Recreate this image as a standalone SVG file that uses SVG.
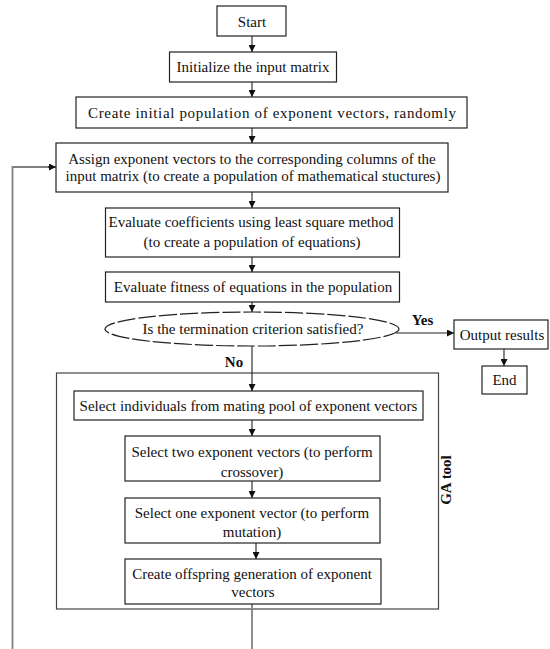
<svg xmlns="http://www.w3.org/2000/svg" width="550" height="649" viewBox="0 0 550 649">
<defs>
<style>
.b{fill:#fff;stroke:#222;stroke-width:1.2}
.t{font-family:"Liberation Serif","Times New Roman",serif;font-size:15px;fill:#111;text-anchor:middle}
.bold{font-weight:bold}
.c{fill:none;stroke:#222;stroke-width:1.1}
.g{fill:none;stroke:#808080;stroke-width:1.8}
</style>
<marker id="ah" viewBox="0 0 10 10" refX="10" refY="5" markerWidth="7" markerHeight="7" markerUnits="userSpaceOnUse" orient="auto">
<path d="M0,0 L10,5 L0,10 z" fill="#111"/>
</marker>
</defs>
<rect width="550" height="649" fill="#fff"/>

<g id="ga-tool">
<rect x="56.5" y="373" width="382" height="236" fill="none" stroke="#444" stroke-width="1.2"/>
<text class="t bold" transform="translate(451,480) rotate(-90)">GA tool</text>
</g>

<g id="connectors">
<path class="c" d="M252,36 V52" marker-end="url(#ah)"/>
<path class="c" d="M252,82 V97" marker-end="url(#ah)"/>
<path class="c" d="M252,128 V143" marker-end="url(#ah)"/>
<path class="c" d="M252,192 V208" marker-end="url(#ah)"/>
<path class="c" d="M252,257 V272" marker-end="url(#ah)"/>
<path class="c" d="M252,302 V312" marker-end="url(#ah)"/>
<path class="c" d="M252,346 V391" marker-end="url(#ah)"/>
<path class="c" d="M252,420 V436" marker-end="url(#ah)"/>
<path class="c" d="M252,481 V498" marker-end="url(#ah)"/>
<path class="c" d="M256,543 V559" marker-end="url(#ah)"/>
<path class="g" d="M252,604 V649" stroke-width="1.3"/>
<path class="c" d="M396,333 H454" marker-end="url(#ah)"/>
<path class="c" d="M504,349 V366" marker-end="url(#ah)"/>
<path class="g" d="M12.5,649 V167 H50"/>
<path class="c" d="M48,167 H56" marker-end="url(#ah)"/>
<text class="t bold" x="422.5" y="324.5">Yes</text>
<text class="t bold" x="234" y="367">No</text>
</g>

<g id="start">
<rect class="b" x="217" y="6" width="69" height="30"/>
<text class="t" x="252" y="26.5">Start</text>
</g>
<g id="init">
<rect class="b" x="169.5" y="52" width="167" height="30"/>
<text class="t" x="253" y="71.5">Initialize the input matrix</text>
</g>
<g id="create">
<rect class="b" x="76" y="97" width="391" height="31"/>
<text class="t" x="272" y="117.5" textLength="368">Create initial population of exponent vectors, randomly</text>
</g>
<g id="assign">
<rect class="b" x="56" y="143" width="392" height="49"/>
<text class="t" x="252" y="164">Assign exponent vectors to the corresponding columns of the</text>
<text class="t" x="253" y="181">input matrix (to create a population of mathematical stuctures)</text>
</g>
<g id="coeffs">
<rect class="b" x="105.5" y="208" width="294" height="49"/>
<text class="t" x="251" y="226.5">Evaluate coefficients using least square method</text>
<text class="t" x="252" y="246.5">(to create a population of equations)</text>
</g>
<g id="fitness">
<rect class="b" x="105.5" y="272" width="294" height="30"/>
<text class="t" x="253" y="291.5">Evaluate fitness of equations in the population</text>
</g>
<g id="decision">
<ellipse cx="252" cy="329" rx="147" ry="17" fill="#fff" stroke="#222" stroke-width="1.2" stroke-dasharray="18 3"/>
<text class="t" x="253" y="334">Is the termination criterion satisfied?</text>
</g>
<g id="output">
<rect class="b" x="454" y="320" width="94" height="29"/>
<text class="t" x="502" y="339.5">Output results</text>
</g>
<g id="end">
<rect class="b" x="482" y="366" width="45" height="28"/>
<text class="t" x="504.5" y="385">End</text>
</g>
<g id="select-individuals">
<rect class="b" x="74" y="391" width="349" height="29"/>
<text class="t" x="248.5" y="410.5">Select individuals from mating pool of exponent vectors</text>
</g>
<g id="select-two">
<rect class="b" x="125" y="436" width="255" height="45"/>
<text class="t" x="252" y="456.5">Select two exponent vectors (to perform</text>
<text class="t" x="252" y="476.5">crossover)</text>
</g>
<g id="select-one">
<rect class="b" x="125" y="498" width="255" height="45"/>
<text class="t" x="252" y="517.5">Select one exponent vector (to perform</text>
<text class="t" x="252" y="536.5">mutation)</text>
</g>
<g id="offspring">
<rect class="b" x="125" y="559" width="256" height="45"/>
<text class="t" x="252" y="579">Create offspring generation of exponent</text>
<text class="t" x="253" y="596.5">vectors</text>
</g>
</svg>
